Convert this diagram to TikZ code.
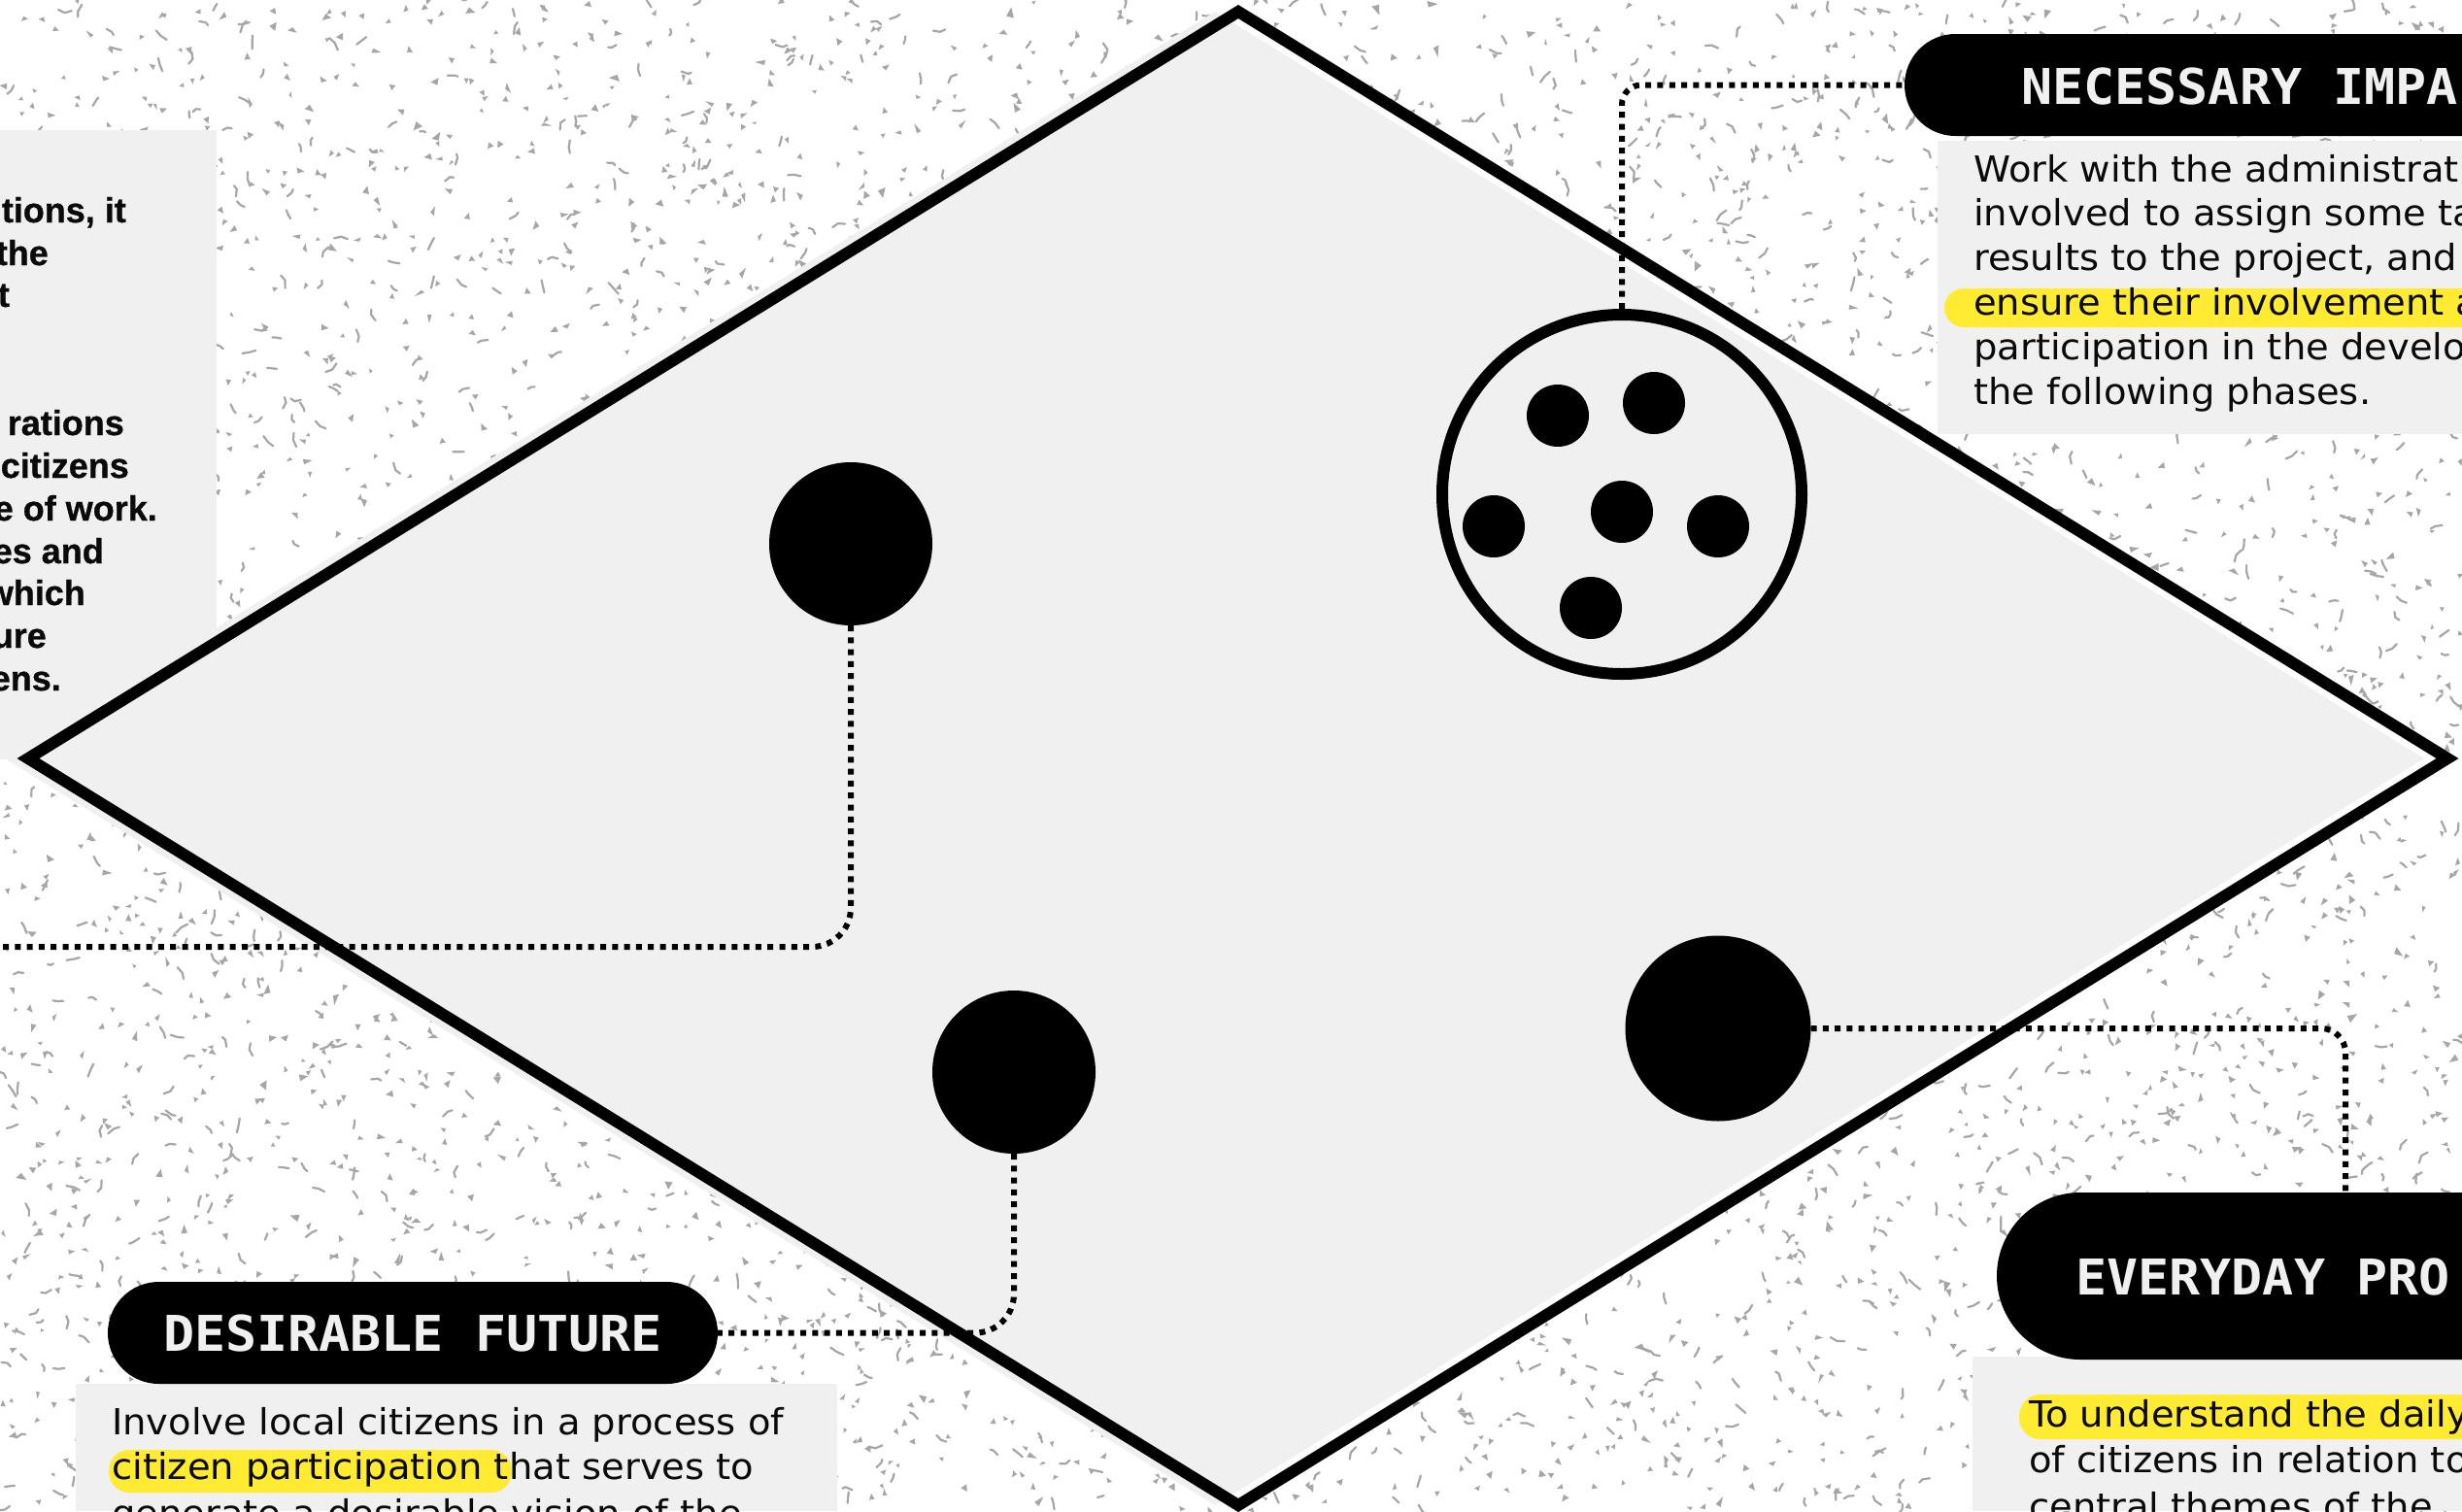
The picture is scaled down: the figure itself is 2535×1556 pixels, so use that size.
\documentclass[tikz,border=0pt]{standalone}
\usepackage{fontspec}
\setmainfont{DejaVu Sans}
\newfontfamily\bodyf[FakeStretch=1.04]{DejaVu Sans}
\newfontfamily\boldf[FakeBold=0.8]{Liberation Sans}
\newfontfamily\headf[FakeStretch=1.05]{DejaVu Sans Mono}
\definecolor{panel}{RGB}{240,240,240}
\definecolor{hly}{RGB}{255,235,50}
\definecolor{speckc}{RGB}{166,166,166}
\definecolor{pilltext}{RGB}{240,240,240}
\definecolor{ink}{RGB}{10,10,10}
\tikzset{
  speck/.style={fill=speckc},
  specklinestyle/.style={draw=speckc, line width=2.2pt, line cap=round, line join=round},
  dotline/.style={draw=black, line width=6pt, dash pattern=on 6pt off 6.3pt},
  bigdot/.style={circle, fill=black, inner sep=0pt, outer sep=0pt},
  ringdot/.style={circle, draw=black, line width=12pt, fill=panel, inner sep=0pt},
  pill/.style={fill=black, rounded corners=52.5pt, inner sep=0pt, outer sep=0pt},
  headtext/.style={text=pilltext, inner sep=0pt, font=\headf\bfseries\fontsize{50.8}{60}\selectfont},
  bodytext/.style={text=ink, inner sep=0pt, anchor=base west, font=\bodyf\fontsize{37}{46}\selectfont},
  boldtext/.style={text=ink, inner sep=0pt, anchor=base east, font=\boldf\bfseries\fontsize{36}{44}\selectfont},
  panelbox/.style={fill=panel},
  diamondline/.style={draw=black, line width=12pt, line join=miter},
}
\begin{document}
\begin{tikzpicture}[x=1pt,y=-1pt]
\path[use as bounding box, clip] (0,0) rectangle (2535,1556);
\fill[white] (0,0) rectangle (2535,1556);
% speckled background
\pgfmathsetseed{4242}
\foreach \k in {1,...,4800}{
  \pgfmathsetmacro{\sx}{rnd*2535}
  \pgfmathsetmacro{\sy}{rnd*1556}
  \pgfmathsetmacro{\sa}{rnd*360}
  \pgfmathsetmacro{\sb}{\sa+100+50*rnd}
  \pgfmathsetmacro{\sc}{\sb+90+50*rnd}
  \pgfmathsetmacro{\ra}{2.5+6.5*rnd*rnd}
  \pgfmathsetmacro{\rb}{2+3*rnd}
  \pgfmathsetmacro{\rc}{2+3*rnd}
  \fill[speck, shift={(\sx,\sy)}] (\sa:\ra pt) -- (\sb:\rb pt) -- (\sc:\rc pt) -- cycle;
}
\foreach \k in {1,...,1800}{
  \pgfmathsetmacro{\sx}{rnd*2535}
  \pgfmathsetmacro{\sy}{rnd*1556}
  \pgfmathsetmacro{\sa}{rnd*360}
  \pgfmathsetmacro{\sb}{\sa+130+100*rnd}
  \pgfmathsetmacro{\ra}{3+5*rnd}
  \pgfmathsetmacro{\rb}{3+5*rnd}
  \draw[specklinestyle, shift={(\sx,\sy)}] (\sa:\ra pt) -- (0pt,0pt) -- (\sb:\rb pt);
}
% panels
\fill[panelbox] (0,134) rectangle (223,782);
\fill[panelbox] (1995,145) rectangle (2535,447);
\fill[panelbox] (78,1425) rectangle (862,1556);
\fill[panelbox] (2031,1397) rectangle (2535,1556);
% diamond
\fill[white] (1275,12) -- (2520,781) -- (1275,1550) -- (29,781) -- cycle;
\fill[panel] (1251,12) -- (2496,781) -- (1251,1550) -- (5,781) -- cycle;
\draw[diamondline] (1275,12) -- (2520,781) -- (1275,1550) -- (29,781) -- cycle;
% circles
\node[bigdot, minimum size=168pt] (cA) at (876,560) {};
\node[bigdot, minimum size=168pt] (cB) at (1044,1104) {};
\node[bigdot, minimum size=191pt] (cC) at (1769,1059) {};
\node[ringdot, minimum size=370pt] (cD) at (1670,509) {};
\node[bigdot, minimum size=64pt] (d1) at (1604,428) {};
\node[bigdot, minimum size=64pt] (d2) at (1703,415) {};
\node[bigdot, minimum size=64pt] (d3) at (1538,542) {};
\node[bigdot, minimum size=64pt] (d4) at (1670,527) {};
\node[bigdot, minimum size=64pt] (d5) at (1769,542) {};
\node[bigdot, minimum size=64pt] (d6) at (1638,626) {};
% pills
\node[pill, minimum width=700pt, minimum height=105pt, anchor=west] (ni) at (1961,87.5) {};
\node[pill, minimum width=628pt, minimum height=105pt, headtext, fill=black] (df) at (425,1372.5) {DESIRABLE FUTURE};
\node[pill, rounded corners=86pt, minimum width=700pt, minimum height=172pt, anchor=north west] (ep) at (2056,1228) {};
\node[headtext, anchor=base west] (nit) at (2081,107) {NECESSARY IMPA};
\node[headtext, anchor=base west] (ept) at (2137,1333) {EVERYDAY PRO};
% connectors
\coordinate (lend) at (0,975);
\draw[dotline, rounded corners=40pt] (cA.south) |- (lend);
\draw[dotline, rounded corners=40pt] (cB.south) |- (df.east);
\draw[dotline, rounded corners=25pt] (cC.east) -| ([xshift=359pt]ep.north west);
\draw[dotline, rounded corners=20pt] (cD.north) |- (ni.west);
% left panel text
\node[boldtext] (l1) at (130,229) {tions, it};
\node[boldtext] (l2) at (50,273) {the};
\node[boldtext] (l3) at (10,316) {t};
\node[boldtext] (l4) at (128,448) {rations};
\node[boldtext] (l5) at (133,492) {citizens};
\node[boldtext] (l6) at (162,536) {e of work.};
\node[boldtext] (l7) at (107,580) {es and};
\node[boldtext] (l8) at (88,623) {which};
\node[boldtext] (l9) at (48,667) {ure};
\node[boldtext] (l10) at (63,711) {ens.};
% necessary impact text
\fill[hly, rounded corners=20pt] (2002,297) rectangle (2620,337);
\node[bodytext] (n1) at (2032,187) {Work with the administratio};
\node[bodytext] (n2) at (2032,232.8) {involved to assign some ta};
\node[bodytext] (n3) at (2032,278.6) {results to the project, and};
\node[bodytext] (n4) at (2032,324.4) {ensure their involvement a};
\node[bodytext] (n5) at (2032,370.2) {participation in the develo};
\node[bodytext] (n6) at (2032,416) {the following phases.};
% desirable future text
\node[bodytext] (f1) at (115,1477) {Involve local citizens in a process of};
\node[bodytext, fill=hly, rounded corners=21pt, inner xsep=3pt, text height=30pt, text depth=14pt] (f2a) at (112,1523) {citizen participation t};
\node[bodytext] (f2b) at ([xshift=-3pt]f2a.base east) {hat serves to};
\node[bodytext] (f3) at (115,1571) {generate a desirable vision of the};
% everyday problems text
\fill[hly, rounded corners=22pt] (2079,1436) rectangle (2620,1482);
\node[bodytext] (e1) at (2089,1469) {To understand the daily};
\node[bodytext] (e2) at (2089,1516) {of citizens in relation to};
\node[bodytext] (e3) at (2089,1564) {central themes of the};
\end{tikzpicture}
\end{document}
